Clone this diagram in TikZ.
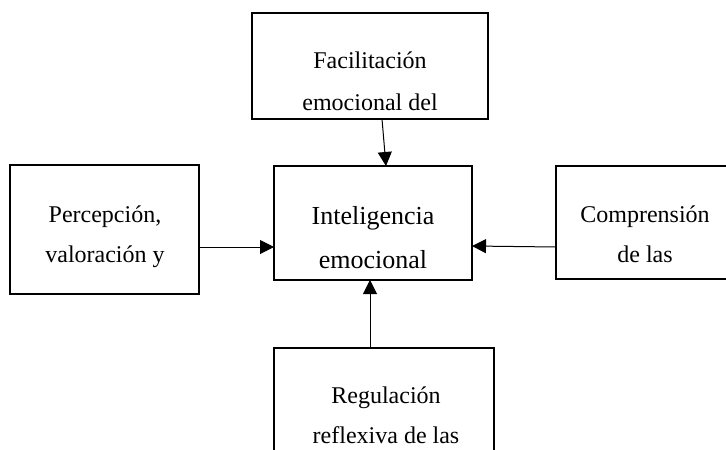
\documentclass[tikz,border=0pt]{standalone}
\usepackage{fontspec}
\setmainfont{Liberation Serif}
\usetikzlibrary{arrows.meta}
\begin{document}
\begin{tikzpicture}[x=1pt,y=-1pt,
  boxnode/.style={draw, line width=2pt, rectangle, inner sep=0pt, outer sep=0pt},
  lbl/.style={anchor=base, inner sep=0pt, font=\fontsize{24}{28}\selectfont},
  biglbl/.style={anchor=base, inner sep=0pt, font=\fontsize{26}{30}\selectfont},
  conn/.style={line width=1pt, -{Triangle[length=14pt,width=14pt]}}]
\useasboundingbox (0,0) rectangle (726,450);
\clip (0,0) rectangle (726,450);
% boxes
\node[boxnode, minimum width=236pt, minimum height=106pt] (ftop) at (370,66) {};
\node[boxnode, minimum width=189pt, minimum height=129pt] (fleft) at (104.5,229.5) {};
\node[boxnode, minimum width=198pt, minimum height=114pt] (cen) at (373,223) {};
\node[boxnode, minimum width=178pt, minimum height=113pt] (fright) at (645,222.5) {};
\node[boxnode, minimum width=220pt, minimum height=122pt] (fbot) at (384,409) {};
% texts
\node[lbl] (t1a) at (370,68) {Facilitación};
\node[lbl] (t1b) at (370,110) {emocional del};
\node[lbl] (t2a) at (105,222) {Percepción,};
\node[lbl] (t2b) at (105,262) {valoración y};
\node[biglbl] (t3a) at (373,224) {Inteligencia};
\node[biglbl] (t3b) at (373,268) {emocional};
\node[lbl] (t4a) at (645,222) {Comprensión};
\node[lbl] (t4b) at (645,262) {de las};
\node[lbl] (t5a) at (386,403) {Regulación};
\node[lbl] (t5b) at (386,443) {reflexiva de las};
% connectors
\draw[conn] ([xshift=130pt]ftop.south west) -- ([xshift=112pt]cen.north west);
\draw[conn] ([yshift=-17.5pt]fleft.east) -- ([yshift=-24pt]cen.west);
\draw[conn] ([yshift=-24.5pt]fright.west) -- ([yshift=-23pt]cen.east);
\draw[conn] ([xshift=96pt]fbot.north west) -- ([xshift=96pt]cen.south west);
\end{tikzpicture}
\end{document}
